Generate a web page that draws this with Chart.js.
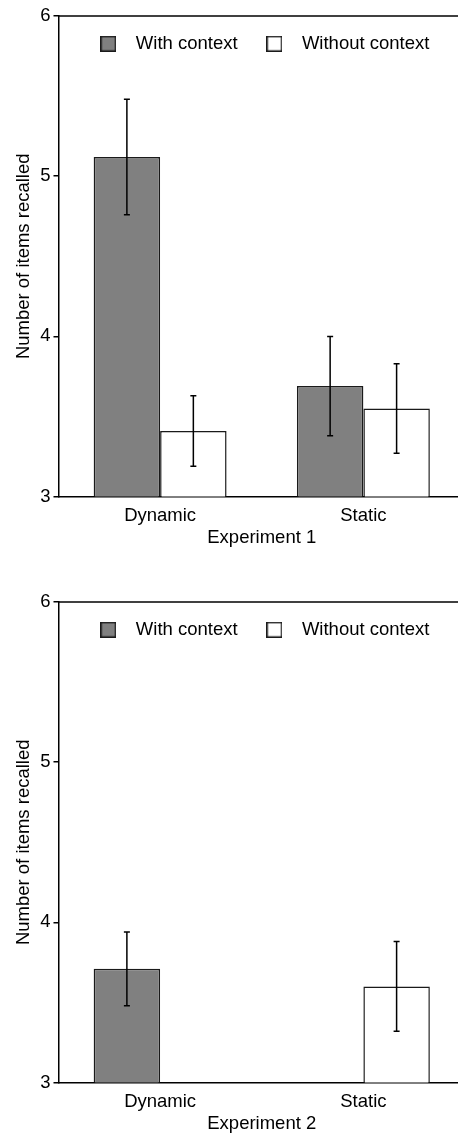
<!DOCTYPE html>
<html>
<head>
<meta charset="utf-8">
<script src="https://cdn.jsdelivr.net/npm/chart.js@4/dist/chart.umd.min.js"></script>
<style>
  html, body { margin: 0; padding: 0; background: #fff; overflow: hidden; }
  canvas { display: block; }
</style>
</head>
<body>
<canvas id="exp1" width="465" height="586"></canvas>
<canvas id="exp2" width="465" height="586"></canvas>
<script>
// data
const categories = ['Dynamic', 'Static'];
const seriesNames = ['With context', 'Without context'];

const exp1With = [5.12, 3.69];
const exp1WithErr = [0.36, 0.31];
const exp1Without = [3.41, 3.55];
const exp1WithoutErr = [0.22, 0.28];

const exp2With = [3.71, null];
const exp2WithErr = [0.23, null];
const exp2Without = [null, 3.60];
const exp2WithoutErr = [null, 0.28];

const yTicks = [3, 4, 5, 6];

const FONT = '"Liberation Sans", Arial, Helvetica, sans-serif';
const fontSize = 18.5;

Chart.defaults.font.family = FONT;
Chart.defaults.font.size = fontSize;
Chart.defaults.color = '#000';

function legendSwatch(fill) {
  const c = document.createElement('canvas');
  c.width = 16; c.height = 16;
  const g = c.getContext('2d');
  g.fillStyle = fill;
  g.fillRect(1, 1, 14, 14);
  g.strokeStyle = '#1a1a1a';
  g.lineWidth = 1.5;
  g.strokeRect(0.75, 0.75, 14.5, 14.5);
  return c;
}
const swatches = [legendSwatch('#808080'), legendSwatch('#ffffff')];

// legend inside the plot area, laid out in a row
const legendRow = {
  id: 'legendRow',
  beforeLayout(chart) {
    if (chart.legend) chart.legend.isHorizontal = () => true;
  },
  afterLayout(chart) {
    if (!chart.legend) return;
    chart.legend.left = chart.chartArea.left - 4;
    chart.legend.right = chart.chartArea.right;
  }
};

// error bars + top frame line
const errorBars = {
  id: 'errorBars',
  afterDatasetsDraw(chart) {
    const ctx = chart.ctx;
    const y = chart.scales.y;
    const area = chart.chartArea;
    ctx.save();
    ctx.strokeStyle = '#000';
    ctx.lineWidth = 1.5;
    ctx.beginPath();
    ctx.moveTo(area.left, area.top);
    ctx.lineTo(area.right, area.top);
    ctx.stroke();
    chart.data.datasets.forEach((ds, i) => {
      const meta = chart.getDatasetMeta(i);
      meta.data.forEach((bar, j) => {
        const v = ds.data[j];
        const e = ds.errors[j];
        if (v == null || e == null) return;
        const top = y.getPixelForValue(v + e);
        const bot = y.getPixelForValue(v - e);
        ctx.beginPath();
        ctx.moveTo(bar.x, top);
        ctx.lineTo(bar.x, bot);
        ctx.moveTo(bar.x - 3, top);
        ctx.lineTo(bar.x + 3, top);
        ctx.moveTo(bar.x - 3, bot);
        ctx.lineTo(bar.x + 3, bot);
        ctx.stroke();
      });
    });
    ctx.restore();
  }
};

function makeChart(id, withVals, withErr, withoutVals, withoutErr, title) {
  return new Chart(document.getElementById(id), {
    type: 'bar',
    data: {
      labels: categories,
      datasets: [{
        label: seriesNames[0],
        data: withVals,
        errors: withErr,
        backgroundColor: '#808080',
        borderColor: '#1a1a1a',
        borderWidth: 1.5,
        borderSkipped: false
      }, {
        label: seriesNames[1],
        data: withoutVals,
        errors: withoutErr,
        backgroundColor: '#ffffff',
        borderColor: '#1a1a1a',
        borderWidth: 1.5,
        borderSkipped: false
      }]
    },
    options: {
      responsive: false,
      animation: false,
      events: [],
      layout: { padding: { left: 7, top: 16, right: 0, bottom: 37 } },
      datasets: {
        bar: { barPercentage: 1, categoryPercentage: 0.654, skipNull: false }
      },
      plugins: {
        tooltip: { enabled: false },
        legend: {
          position: 'chartArea',
          align: 'center',
          labels: {
            usePointStyle: true,
            pointStyleWidth: 36.5,
            padding: 18.5,
            color: '#000',
            font: { size: fontSize },
            generateLabels(chart) {
              const items = Chart.defaults.plugins.legend.labels.generateLabels(chart);
              items.forEach((it, k) => { it.pointStyle = swatches[k]; });
              return items;
            }
          }
        }
      },
      scales: {
        x: {
          grid: { display: false },
          border: { display: true, color: '#000', width: 1.5 },
          ticks: { padding: 0, color: '#000' },
          title: { display: true, text: title, color: '#000', padding: { top: 0, bottom: 0 } }
        },
        y: {
          min: 3,
          max: 6,
          afterBuildTicks(scale) { scale.ticks = yTicks.map(v => ({ value: v })); },
          grid: { drawOnChartArea: false, drawTicks: true, tickLength: 5, color: '#000', lineWidth: 1.5 },
          border: { display: true, color: '#000', width: 1.5 },
          ticks: { padding: 3, color: '#000' },
          title: { display: true, text: 'Number of items recalled', color: '#000', padding: { top: 6, bottom: 2 } }
        }
      }
    },
    plugins: [legendRow, errorBars]
  });
}

makeChart('exp1', exp1With, exp1WithErr, exp1Without, exp1WithoutErr, 'Experiment 1');
makeChart('exp2', exp2With, exp2WithErr, exp2Without, exp2WithoutErr, 'Experiment 2');
</script>
</body>
</html>
